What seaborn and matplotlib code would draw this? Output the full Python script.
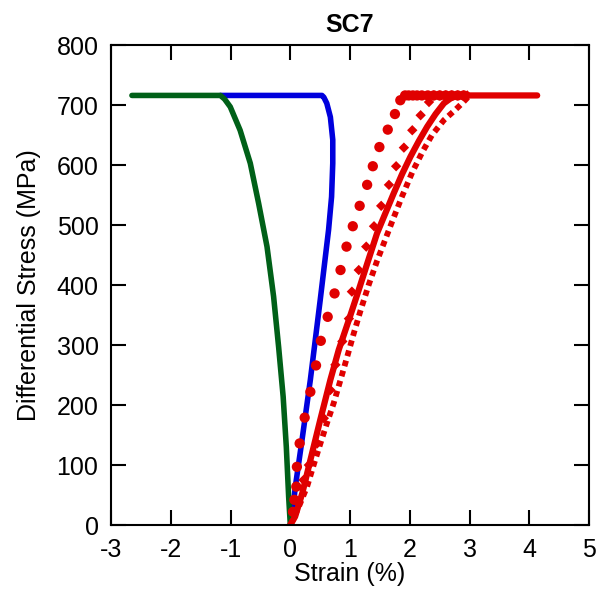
import matplotlib
matplotlib.use("Agg")
import matplotlib.pyplot as plt
import seaborn as sns
import pandas as pd

# ---- data ----
green_strain = [0, -0.028, -0.067, -0.12, -0.196, -0.28, -0.39, -0.53, -0.67, -0.84, -1.005, -1.1, -1.17, -2.65]
green_stress = [0, 47, 130, 214, 297, 381, 464, 536, 603, 658, 697, 710, 716, 716]

blue_strain = [0, 0.03, 0.084, 0.196, 0.335, 0.50, 0.64, 0.69, 0.71, 0.71, 0.67, 0.61, 0.56, 0.53, -1.17]
blue_stress = [0, 15, 64, 142, 242, 375, 492, 547, 603, 642, 680, 703, 713, 716, 716]

red_solid_strain = [0, 0.08, 0.2, 0.335, 0.5, 0.67, 0.81, 0.98, 1.145, 1.30, 1.45, 1.60, 1.73, 1.87,
                    2.01, 2.15, 2.29, 2.43, 2.57, 2.68, 2.8, 4.13]
red_solid_stress = [0, 14, 53, 108, 175, 242, 292, 342, 392, 440, 486, 522, 553, 585,
                    614, 640, 664, 685, 703, 711, 716, 716]

red_dot_strain = [0, 0.14, 0.28, 0.39, 0.5, 0.61, 0.725, 0.84, 0.95, 1.06, 1.17, 1.31, 1.45, 1.535,
                  1.70, 1.87, 2.04, 2.21, 2.37, 2.57, 2.76, 2.875, 3.0]
red_dot_stress = [0, 30, 64, 100, 135, 169, 203, 242, 280, 319, 356, 400, 440, 462,
                  505, 548, 588, 622, 650, 675, 692, 703, 716]

red_circle_strain = [0.045, 0.067, 0.1, 0.11, 0.156, 0.24, 0.335, 0.43, 0.51, 0.625, 0.74, 0.84, 0.94,
                     1.045, 1.16, 1.285, 1.38, 1.49, 1.63, 1.75, 1.84,
                     1.92, 1.98, 2.05, 2.12, 2.2, 2.3, 2.4, 2.5, 2.6, 2.7, 2.8, 2.9]
red_circle_stress = [22, 42, 64, 97, 136, 179, 222, 266, 307, 347, 386, 425, 464,
                     498, 532, 567, 598, 630, 659, 685, 708,
                     716, 716, 716, 716, 716, 716, 716, 716, 716, 716, 716, 716]

red_diamond_strain = [0.05, 0.11, 0.22, 0.31, 0.45, 0.56, 0.67, 0.754, 0.87, 0.98, 1.03, 1.145, 1.27,
                      1.40, 1.52, 1.65, 1.77, 1.90, 2.04, 2.18, 2.32,
                      2.40, 2.50, 2.60, 2.70, 2.80, 2.90, 2.96]
red_diamond_stress = [20, 39, 75, 100, 136, 178, 225, 267, 306, 344, 389, 425, 464,
                      498, 532, 567, 598, 629, 658, 683, 705,
                      716, 716, 716, 716, 716, 716, 716]

x_ticks = [-3, -2, -1, 0, 1, 2, 3, 4, 5]
y_ticks = [0, 100, 200, 300, 400, 500, 600, 700, 800]

RED = "#E00000"
BLUE = "#0000DD"
GREEN = "#006018"

sns.set_style("ticks")
plt.rcParams['font.family'] = ['Liberation Sans', 'DejaVu Sans']
plt.rcParams['text.color'] = 'black'
plt.rcParams['axes.labelcolor'] = 'black'
plt.rcParams['xtick.color'] = 'black'
plt.rcParams['ytick.color'] = 'black'

fig = plt.figure(figsize=(6.0, 5.95), dpi=100)
ax = fig.add_axes([0.185, 0.1176, 0.797, 0.8067])

def line(x, y, **kw):
    df = pd.DataFrame({"x": x, "y": y})
    sns.lineplot(data=df, x="x", y="y", sort=False, estimator=None, ax=ax, **kw)

line(blue_strain, blue_stress, color=BLUE, linewidth=4.0)
line(green_strain, green_stress, color=GREEN, linewidth=4.0)
line(red_solid_strain, red_solid_stress, color=RED, linewidth=4.5)
line(red_dot_strain, red_dot_stress, color=RED, linewidth=4.2, linestyle=(0, (1.0, 0.8)))

dfc = pd.DataFrame({"x": red_circle_strain, "y": red_circle_stress})
sns.scatterplot(data=dfc, x="x", y="y", marker="o", s=55, color=RED, edgecolor="none", ax=ax, zorder=3)
dfd = pd.DataFrame({"x": red_diamond_strain, "y": red_diamond_stress})
sns.scatterplot(data=dfd, x="x", y="y", marker="D", s=28, color=RED, edgecolor="none", ax=ax, zorder=3)

ax.set_xlim(-3, 5)
ax.set_ylim(0, 800)
ax.set_xticks(x_ticks)
ax.set_yticks(y_ticks)
ax.set_xticklabels([str(t) for t in x_ticks])
ax.set_yticklabels([str(t) for t in y_ticks])
ax.tick_params(direction="in", length=11, width=1.5, top=True, right=True,
               labelsize=18, colors="black", pad=9)
for sp in ax.spines.values():
    sp.set_visible(True)
    sp.set_linewidth(1.5)
    sp.set_color("black")

ax.set_xlabel("Strain (%)", fontsize=18, labelpad=0)
ax.set_ylabel("Differential Stress (MPa)", fontsize=18, labelpad=11)
ax.set_title("SC7", fontsize=18, fontweight="bold", pad=9.5)

fig.savefig("out.png", dpi=100)
